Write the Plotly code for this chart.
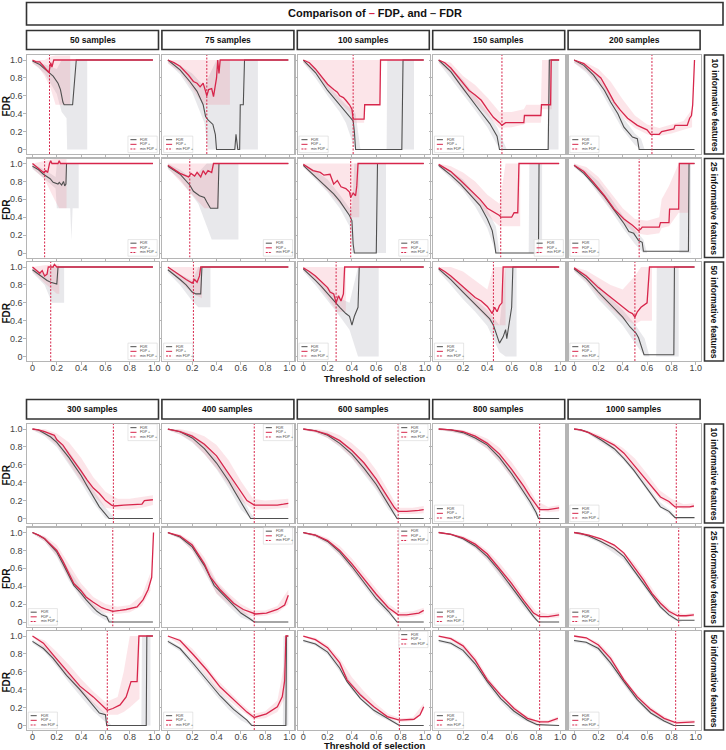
import plotly.graph_objects as go

W, H = 726, 750
FONT = "Liberation Sans, Arial, sans-serif"

# ---------------- labels ----------------
SAMPLES_TOP = ["50 samples", "75 samples", "100 samples", "150 samples", "200 samples"]
SAMPLES_BOTTOM = ["300 samples", "400 samples", "600 samples", "800 samples", "1000 samples"]
FEATURES = ["10 informative features", "25 informative features", "50 informative features"]
X_TICKS = [0, 0.2, 0.4, 0.6, 0.8, 1.0]
X_TICKTEXT = ["0", "0.2", "0.4", "0.6", "0.8", "1.0"]
Y_TICKS = [0, 0.2, 0.4, 0.6, 0.8, 1.0]
Y_TICKTEXT = ["0", "0.2", "0.4", "0.6", "0.8", "1.0"]

# ---------------- data: (threshold, value) ; bands: (threshold, low, high) ----------------
# ---- 10 informative features, small samples
S50_F10_FDR = [(0,0.99),(0.03,0.97),(0.06,0.95),(0.1,0.9),(0.13,0.87),(0.17,0.82),(0.21,0.74),(0.23,0.67),(0.25,0.53),(0.26,0.5),(0.33,0.5),(0.36,1.0),(0.99,1.0)]
S50_F10_FDP = [(0,1.0),(0.03,0.98),(0.06,0.98),(0.08,0.95),(0.1,0.92),(0.12,0.89),(0.135,0.86),(0.15,0.97),(0.16,0.92),(0.175,1.0),(0.99,1.0)]
S50_F10_FDR_BAND = [(0,0.97,1.0),(0.1,0.85,0.95),(0.2,0.62,0.9),(0.24,0.42,1.0),(0.28,0.35,1.0),(0.285,0.0,1.0),(0.45,0.0,1.0)]
S50_F10_FDP_BAND = [(0,0.96,1.0),(0.05,0.92,1.0),(0.1,0.82,1.0),(0.15,0.68,1.04),(0.19,0.5,1.05),(0.31,0.5,1.05)]
S75_F10_FDR = [(0,1.0),(0.05,0.95),(0.1,0.89),(0.18,0.76),(0.24,0.65),(0.29,0.5),(0.31,0.37),(0.33,0.33),(0.35,0.31),(0.37,0.28),(0.39,0.17),(0.4,0.0),(0.55,0.0),(0.56,0.17),(0.575,0.0),(0.59,0.0),(0.595,0.5),(0.62,0.5),(0.63,1.0),(0.99,1.0)]
S75_F10_FDP = [(0,1.0),(0.05,0.97),(0.1,0.93),(0.17,0.83),(0.21,0.76),(0.24,0.74),(0.265,0.7),(0.29,0.74),(0.31,0.65),(0.32,0.6),(0.335,0.67),(0.36,0.68),(0.375,0.59),(0.4,0.8),(0.41,1.0),(0.42,0.85),(0.43,1.0),(0.99,1.0)]
S75_F10_FDR_BAND = [(0,0.97,1.0),(0.1,0.84,0.94),(0.2,0.64,0.85),(0.3,0.3,0.7),(0.33,0.0,0.8),(0.4,0.0,1.0),(0.74,0.0,1.0)]
S75_F10_FDP_BAND = [(0,0.96,1.0),(0.1,0.87,1.0),(0.2,0.68,1.0),(0.29,0.5,1.0),(0.51,0.5,1.0)]
S100_F10_FDR = [(0,1.0),(0.05,0.93),(0.1,0.86),(0.15,0.76),(0.2,0.66),(0.25,0.58),(0.3,0.5),(0.35,0.42),(0.38,0.38),(0.41,0.32),(0.42,0.2),(0.43,0.0),(0.81,0.0),(0.82,1.0),(0.99,1.0)]
S100_F10_FDP = [(0,1.0),(0.05,0.97),(0.1,0.9),(0.15,0.82),(0.2,0.73),(0.25,0.67),(0.28,0.64),(0.3,0.6),(0.33,0.58),(0.35,0.55),(0.38,0.5),(0.4,0.45),(0.41,0.34),(0.5,0.34),(0.505,0.5),(0.63,0.5),(0.635,1.0),(0.99,1.0)]
S100_F10_FDR_BAND = [(0,0.97,1.0),(0.1,0.8,0.9),(0.2,0.6,0.72),(0.3,0.42,0.58),(0.35,0.3,0.5),(0.4,0.1,0.45),(0.43,0.0,0.4),(0.47,0.0,0.0),(0.685,0.0,0.0),(0.69,0.0,1.0),(0.91,0.0,1.0)]
S100_F10_FDP_BAND = [(0,0.97,1.0),(0.1,0.85,1.0),(0.2,0.68,1.0),(0.3,0.52,1.0),(0.38,0.42,1.0),(0.41,0.3,1.0),(0.5,0.3,1.0),(0.505,0.5,1.0),(0.635,0.5,1.0)]
S150_F10_FDR = [(0,1.0),(0.05,0.94),(0.1,0.87),(0.18,0.72),(0.26,0.57),(0.34,0.43),(0.42,0.29),(0.48,0.15),(0.5,0.0),(0.9,0.0),(0.91,1.0),(0.99,1.0)]
S150_F10_FDP = [(0,1.0),(0.05,0.97),(0.1,0.91),(0.15,0.83),(0.2,0.74),(0.25,0.66),(0.3,0.61),(0.35,0.55),(0.4,0.45),(0.45,0.36),(0.5,0.3),(0.52,0.27),(0.55,0.3),(0.7,0.3),(0.705,0.38),(0.84,0.38),(0.845,0.5),(0.92,0.5),(0.925,1.0),(0.99,1.0)]
S150_F10_FDR_BAND = [(0,0.97,1.0),(0.1,0.8,0.92),(0.2,0.62,0.78),(0.3,0.44,0.6),(0.4,0.25,0.42),(0.48,0.05,0.25),(0.52,0.0,0.12),(0.56,0.0,0.0),(0.895,0.0,0.0),(0.9,0.0,1.0),(0.985,0.0,1.0)]
S150_F10_FDP_BAND = [(0,0.97,1.0),(0.1,0.85,0.97),(0.2,0.66,0.82),(0.3,0.52,0.72),(0.4,0.38,0.58),(0.5,0.24,0.42),(0.6,0.25,0.42),(0.7,0.28,0.45),(0.72,0.3,0.5),(0.84,0.3,0.5),(0.85,0.45,1.0),(0.93,0.45,1.0)]
S200_F10_FDR = [(0,1.0),(0.08,0.94),(0.16,0.83),(0.25,0.66),(0.3,0.53),(0.36,0.4),(0.41,0.25),(0.48,0.14),(0.52,0.12),(0.535,0.0),(0.99,0.0)]
S200_F10_FDP = [(0,1.0),(0.08,0.96),(0.16,0.87),(0.22,0.8),(0.27,0.68),(0.33,0.53),(0.38,0.44),(0.44,0.35),(0.52,0.27),(0.6,0.22),(0.63,0.17),(0.7,0.17),(0.72,0.2),(0.82,0.23),(0.83,0.27),(0.93,0.27),(0.95,0.35),(0.965,0.38),(0.975,0.5),(0.99,1.0)]
S200_F10_FDR_BAND = [(0,0.97,1.0),(0.1,0.86,0.94),(0.2,0.7,0.82),(0.3,0.46,0.6),(0.4,0.22,0.36),(0.5,0.05,0.18),(0.55,0.0,0.12),(0.58,0.0,0.0)]
S200_F10_FDP_BAND = [(0,0.97,1.0),(0.1,0.88,0.97),(0.2,0.74,0.9),(0.3,0.55,0.76),(0.4,0.36,0.56),(0.5,0.24,0.38),(0.6,0.17,0.28),(0.7,0.15,0.24),(0.8,0.18,0.28),(0.9,0.22,0.32),(0.97,0.25,0.45)]

# ---- 25 informative features, small samples
S50_F25_FDR = [(0,0.97),(0.05,0.93),(0.09,0.88),(0.145,0.83),(0.17,0.79),(0.21,0.77),(0.22,0.79),(0.24,0.76),(0.255,0.8),(0.265,0.75),(0.275,0.77),(0.28,1.0),(0.99,1.0)]
S50_F25_FDP = [(0,1.0),(0.05,0.94),(0.09,0.9),(0.11,0.92),(0.125,0.9),(0.14,1.0),(0.15,1.03),(0.16,1.0),(0.21,1.0),(0.22,1.03),(0.23,1.0),(0.99,1.0)]
S50_F25_FDR_BAND = [(0,0.94,1.0),(0.1,0.83,0.93),(0.19,0.72,0.85),(0.2,0.5,1.0),(0.31,0.5,1.0),(0.32,0.14,1.0),(0.33,0.5,1.0),(0.38,0.5,1.0)]
S50_F25_FDP_BAND = [(0,0.95,1.0),(0.1,0.82,1.03),(0.18,0.6,1.05),(0.22,0.5,1.05),(0.28,0.5,1.05)]
S75_F25_FDR = [(0,0.97),(0.1,0.88),(0.18,0.76),(0.21,0.69),(0.26,0.64),(0.3,0.62),(0.32,0.57),(0.35,0.5),(0.41,0.5),(0.42,1.0),(0.99,1.0)]
S75_F25_FDP = [(0,0.98),(0.05,0.93),(0.1,0.89),(0.17,0.85),(0.19,0.89),(0.22,0.86),(0.24,0.9),(0.27,0.85),(0.29,0.92),(0.31,0.88),(0.33,0.92),(0.36,0.9),(0.375,1.0),(0.99,1.0)]
S75_F25_FDR_BAND = [(0,0.94,1.0),(0.1,0.82,0.93),(0.18,0.68,0.85),(0.25,0.55,0.9),(0.32,0.3,1.0),(0.36,0.15,1.0),(0.58,0.15,1.0)]
S75_F25_FDP_BAND = [(0,0.95,1.0),(0.1,0.8,1.0),(0.2,0.65,1.0),(0.3,0.5,1.0),(0.42,0.5,1.0)]
S100_F25_FDR = [(0,0.98),(0.08,0.88),(0.17,0.77),(0.25,0.66),(0.3,0.58),(0.35,0.48),(0.38,0.42),(0.4,0.36),(0.41,0.1),(0.42,0.0),(0.6,0.0),(0.61,1.0),(0.99,1.0)]
S100_F25_FDP = [(0,0.99),(0.04,0.95),(0.08,0.92),(0.14,0.9),(0.17,0.87),(0.22,0.88),(0.25,0.77),(0.28,0.81),(0.31,0.74),(0.35,0.72),(0.38,0.68),(0.39,0.62),(0.41,0.67),(0.43,0.64),(0.44,0.75),(0.45,1.0),(0.99,1.0)]
S100_F25_FDR_BAND = [(0,0.96,1.0),(0.1,0.82,0.92),(0.2,0.68,0.82),(0.3,0.5,0.65),(0.38,0.3,0.5),(0.4,0.0,0.5),(0.42,0.0,1.0),(0.68,0.0,1.0)]
S100_F25_FDP_BAND = [(0,0.96,1.0),(0.1,0.84,1.0),(0.2,0.7,1.0),(0.3,0.55,1.0),(0.4,0.4,1.0),(0.46,0.4,1.0)]
S150_F25_FDR = [(0,0.98),(0.1,0.87),(0.18,0.77),(0.26,0.65),(0.34,0.53),(0.4,0.38),(0.44,0.25),(0.46,0.1),(0.47,0.0),(0.82,0.0),(0.825,1.0),(0.99,1.0)]
S150_F25_FDP = [(0,0.99),(0.1,0.91),(0.18,0.81),(0.26,0.7),(0.34,0.6),(0.4,0.5),(0.45,0.46),(0.5,0.42),(0.51,0.4),(0.6,0.4),(0.62,0.45),(0.65,0.45),(0.66,1.0),(0.99,1.0)]
S150_F25_FDR_BAND = [(0,0.96,1.0),(0.1,0.83,0.92),(0.2,0.7,0.82),(0.3,0.52,0.66),(0.4,0.28,0.48),(0.47,0.0,0.3),(0.5,0.0,0.0),(0.74,0.0,0.0),(0.745,0.0,1.0),(0.85,0.0,1.0)]
S150_F25_FDP_BAND = [(0,0.96,1.0),(0.1,0.86,0.97),(0.2,0.72,0.9),(0.3,0.58,0.8),(0.4,0.42,0.65),(0.5,0.3,0.55),(0.55,0.3,1.0),(0.67,0.3,1.0)]
S200_F25_FDR = [(0,0.98),(0.08,0.89),(0.16,0.77),(0.25,0.63),(0.33,0.48),(0.41,0.33),(0.45,0.24),(0.49,0.22),(0.53,0.14),(0.56,0.12),(0.57,0.02),(0.94,0.02),(0.945,1.0),(0.99,1.0)]
S200_F25_FDP = [(0,0.98),(0.08,0.91),(0.16,0.79),(0.25,0.64),(0.33,0.49),(0.41,0.38),(0.48,0.31),(0.53,0.25),(0.55,0.27),(0.56,0.29),(0.7,0.29),(0.71,0.34),(0.78,0.34),(0.785,0.49),(0.86,0.49),(0.865,1.0),(0.99,1.0)]
S200_F25_FDR_BAND = [(0,0.96,1.0),(0.1,0.84,0.92),(0.2,0.66,0.8),(0.3,0.48,0.62),(0.4,0.28,0.42),(0.5,0.1,0.26),(0.57,0.0,0.15),(0.6,0.0,0.0),(0.865,0.0,0.0),(0.87,0.0,1.0),(0.96,0.0,1.0)]
S200_F25_FDP_BAND = [(0,0.96,1.0),(0.1,0.86,0.96),(0.2,0.68,0.85),(0.3,0.5,0.68),(0.4,0.34,0.5),(0.5,0.22,0.38),(0.6,0.2,0.36),(0.7,0.22,0.4),(0.72,0.28,0.6),(0.78,0.3,0.75),(0.86,0.45,1.0),(0.94,0.45,1.0)]

# ---- 50 informative features, small samples
S50_F50_FDR = [(0,0.97),(0.04,0.93),(0.08,0.88),(0.12,0.85),(0.15,0.83),(0.18,0.82),(0.2,0.81),(0.21,1.0),(0.99,1.0)]
S50_F50_FDP = [(0,1.0),(0.03,0.97),(0.06,0.93),(0.08,0.96),(0.1,0.9),(0.12,0.92),(0.13,1.0),(0.17,1.0),(0.18,1.03),(0.2,1.0),(0.99,1.0)]
S50_F50_FDR_BAND = [(0,0.94,1.0),(0.1,0.8,0.92),(0.16,0.6,1.0),(0.26,0.6,1.0)]
S50_F50_FDP_BAND = [(0,0.95,1.0),(0.1,0.82,1.02),(0.2,0.7,1.03),(0.22,0.7,1.03)]
S75_F50_FDR = [(0,0.97),(0.05,0.92),(0.1,0.86),(0.15,0.8),(0.2,0.72),(0.23,0.7),(0.27,0.7),(0.28,1.0),(0.99,1.0)]
S75_F50_FDP = [(0,1.0),(0.05,0.95),(0.1,0.9),(0.15,0.86),(0.2,0.82),(0.22,0.86),(0.24,0.83),(0.26,0.9),(0.27,1.0),(0.99,1.0)]
S75_F50_FDR_BAND = [(0,0.94,1.0),(0.1,0.8,0.92),(0.2,0.62,0.85),(0.25,0.55,1.0),(0.35,0.55,1.0)]
S75_F50_FDP_BAND = [(0,0.96,1.0),(0.1,0.84,1.0),(0.2,0.7,1.0),(0.28,0.65,1.0)]
S100_F50_FDR = [(0,0.98),(0.05,0.92),(0.1,0.85),(0.15,0.78),(0.2,0.7),(0.25,0.62),(0.3,0.55),(0.35,0.48),(0.38,0.45),(0.4,0.35),(0.42,0.45),(0.45,0.55),(0.46,1.0),(0.99,1.0)]
S100_F50_FDP = [(0,0.99),(0.05,0.95),(0.1,0.9),(0.15,0.83),(0.2,0.77),(0.22,0.72),(0.25,0.7),(0.27,0.6),(0.29,0.68),(0.31,0.62),(0.33,0.7),(0.34,1.0),(0.99,1.0)]
S100_F50_FDR_BAND = [(0,0.95,1.0),(0.1,0.8,0.9),(0.2,0.62,0.78),(0.3,0.45,0.65),(0.38,0.3,0.6),(0.45,0.0,1.0),(0.62,0.0,1.0)]
S100_F50_FDP_BAND = [(0,0.96,1.0),(0.1,0.84,1.0),(0.2,0.66,1.0),(0.28,0.5,1.0),(0.35,0.5,1.0)]
S150_F50_FDR = [(0,0.98),(0.05,0.92),(0.1,0.86),(0.2,0.72),(0.3,0.58),(0.38,0.47),(0.42,0.42),(0.45,0.35),(0.48,0.22),(0.5,0.15),(0.53,0.22),(0.55,0.3),(0.56,0.2),(0.6,0.55),(0.61,1.0),(0.99,1.0)]
S150_F50_FDP = [(0,0.99),(0.05,0.95),(0.1,0.9),(0.2,0.78),(0.3,0.66),(0.35,0.62),(0.4,0.56),(0.42,0.52),(0.44,0.48),(0.46,0.55),(0.48,0.5),(0.5,0.57),(0.52,0.6),(0.53,1.0),(0.99,1.0)]
S150_F50_FDR_BAND = [(0,0.95,1.0),(0.1,0.8,0.9),(0.2,0.64,0.78),(0.3,0.5,0.64),(0.4,0.34,0.52),(0.5,0.05,0.35),(0.55,0.0,1.0),(0.64,0.0,1.0)]
S150_F50_FDP_BAND = [(0,0.96,1.0),(0.1,0.85,1.0),(0.2,0.7,0.95),(0.3,0.56,0.85),(0.4,0.42,0.75),(0.45,0.35,1.0),(0.55,0.35,1.0)]
S200_F50_FDR = [(0,0.98),(0.1,0.87),(0.2,0.72),(0.3,0.58),(0.4,0.44),(0.46,0.33),(0.51,0.26),(0.53,0.21),(0.575,0.02),(0.82,0.02),(0.825,1.0),(0.99,1.0)]
S200_F50_FDP = [(0,0.99),(0.1,0.9),(0.2,0.77),(0.3,0.66),(0.4,0.55),(0.45,0.5),(0.48,0.48),(0.5,0.44),(0.52,0.5),(0.55,0.55),(0.6,0.6),(0.62,1.0),(0.99,1.0)]
S200_F50_FDR_BAND = [(0,0.95,1.0),(0.1,0.82,0.92),(0.2,0.64,0.8),(0.3,0.5,0.65),(0.4,0.35,0.52),(0.5,0.15,0.36),(0.58,0.0,0.2),(0.62,0.0,0.0),(0.675,0.0,0.0),(0.68,0.0,1.0),(0.86,0.0,1.0)]
S200_F50_FDP_BAND = [(0,0.96,1.0),(0.1,0.84,0.96),(0.2,0.68,0.88),(0.3,0.54,0.8),(0.4,0.42,0.75),(0.5,0.36,0.9),(0.55,0.4,1.0),(0.64,0.4,1.0)]

# ---- 10 informative features, large samples
S300_F10_FDR = [(0,1.0),(0.05,0.99),(0.1,0.95),(0.15,0.91),(0.2,0.85),(0.25,0.77),(0.3,0.68),(0.35,0.58),(0.4,0.48),(0.45,0.36),(0.5,0.25),(0.55,0.13),(0.6,0.05),(0.63,0.0),(0.99,0.0)]
S300_F10_FDP = [(0,1.0),(0.05,0.99),(0.1,0.97),(0.15,0.95),(0.18,0.93),(0.2,0.88),(0.25,0.82),(0.3,0.72),(0.35,0.63),(0.4,0.53),(0.45,0.43),(0.5,0.34),(0.55,0.28),(0.6,0.2),(0.65,0.15),(0.67,0.14),(0.75,0.15),(0.85,0.16),(0.9,0.16),(0.92,0.2),(0.99,0.21)]
S300_F10_FDR_BAND = [(0,0.99,1.0),(0.1,0.92,0.98),(0.2,0.8,0.9),(0.3,0.6,0.75),(0.4,0.4,0.55),(0.5,0.18,0.32),(0.6,0.0,0.12),(0.65,0.0,0.05),(0.68,0.0,0.0)]
S300_F10_FDP_BAND = [(0,0.99,1.0),(0.1,0.94,1.0),(0.2,0.82,0.95),(0.3,0.62,0.85),(0.4,0.42,0.68),(0.5,0.26,0.46),(0.6,0.12,0.3),(0.7,0.1,0.22),(0.8,0.1,0.22),(0.9,0.12,0.24),(0.99,0.15,0.26)]
S400_F10_FDR = [(0,1.0),(0.1,0.97),(0.2,0.9),(0.3,0.78),(0.4,0.62),(0.5,0.42),(0.55,0.3),(0.6,0.18),(0.65,0.07),(0.68,0.0),(0.99,0.0)]
S400_F10_FDP = [(0,1.0),(0.1,0.97),(0.2,0.92),(0.3,0.83),(0.4,0.7),(0.45,0.6),(0.5,0.5),(0.55,0.4),(0.6,0.3),(0.65,0.2),(0.71,0.15),(0.8,0.15),(0.9,0.15),(0.95,0.16),(0.99,0.17)]
S400_F10_FDR_BAND = [(0,0.99,1.0),(0.1,0.94,0.99),(0.2,0.85,0.94),(0.3,0.72,0.84),(0.4,0.55,0.68),(0.5,0.34,0.5),(0.6,0.1,0.26),(0.68,0.0,0.06),(0.72,0.0,0.0)]
S400_F10_FDP_BAND = [(0,0.99,1.0),(0.1,0.94,1.0),(0.2,0.86,0.97),(0.3,0.72,0.92),(0.4,0.56,0.82),(0.5,0.38,0.65),(0.6,0.2,0.42),(0.7,0.1,0.22),(0.8,0.1,0.2),(0.99,0.12,0.22)]
S600_F10_FDR = [(0,1.0),(0.1,0.98),(0.2,0.93),(0.3,0.84),(0.4,0.72),(0.5,0.56),(0.6,0.38),(0.65,0.27),(0.7,0.16),(0.75,0.05),(0.77,0.0),(0.99,0.0)]
S600_F10_FDP = [(0,1.0),(0.1,0.98),(0.2,0.94),(0.3,0.87),(0.4,0.76),(0.5,0.62),(0.6,0.44),(0.65,0.33),(0.7,0.22),(0.75,0.12),(0.78,0.08),(0.85,0.08),(0.95,0.09),(0.99,0.1)]
S600_F10_FDR_BAND = [(0,0.99,1.0),(0.1,0.96,0.99),(0.2,0.9,0.96),(0.3,0.8,0.88),(0.4,0.67,0.77),(0.5,0.5,0.62),(0.6,0.32,0.44),(0.7,0.1,0.22),(0.77,0.0,0.04),(0.8,0.0,0.0)]
S600_F10_FDP_BAND = [(0,0.99,1.0),(0.1,0.96,1.0),(0.2,0.9,0.98),(0.3,0.81,0.93),(0.4,0.68,0.84),(0.5,0.52,0.72),(0.6,0.34,0.54),(0.7,0.14,0.3),(0.78,0.05,0.12),(0.9,0.05,0.12),(0.99,0.06,0.14)]
S800_F10_FDR = [(0,1.0),(0.1,0.99),(0.2,0.96),(0.3,0.9),(0.4,0.82),(0.5,0.68),(0.6,0.5),(0.7,0.3),(0.75,0.19),(0.8,0.07),(0.82,0.0),(0.99,0.0)]
S800_F10_FDP = [(0,1.0),(0.1,0.99),(0.2,0.97),(0.3,0.92),(0.4,0.84),(0.5,0.72),(0.6,0.55),(0.7,0.36),(0.75,0.25),(0.8,0.15),(0.83,0.1),(0.9,0.1),(0.95,0.11),(0.99,0.12)]
S800_F10_FDR_BAND = [(0,0.99,1.0),(0.1,0.97,1.0),(0.2,0.94,0.98),(0.3,0.87,0.93),(0.4,0.78,0.86),(0.5,0.63,0.73),(0.6,0.45,0.55),(0.7,0.25,0.35),(0.8,0.03,0.11),(0.83,0.0,0.02),(0.86,0.0,0.0)]
S800_F10_FDP_BAND = [(0,0.99,1.0),(0.1,0.97,1.0),(0.2,0.94,0.99),(0.3,0.88,0.95),(0.4,0.78,0.89),(0.5,0.64,0.79),(0.6,0.46,0.63),(0.7,0.28,0.44),(0.8,0.1,0.2),(0.9,0.07,0.13),(0.99,0.08,0.15)]
S1000_F10_FDR = [(0,1.0),(0.055,0.99),(0.12,0.96),(0.22,0.88),(0.33,0.78),(0.41,0.67),(0.49,0.54),(0.57,0.39),(0.64,0.26),(0.71,0.13),(0.78,0.08),(0.83,0.01),(0.99,0.01)]
S1000_F10_FDP = [(0,1.0),(0.055,0.99),(0.12,0.96),(0.22,0.9),(0.33,0.82),(0.41,0.73),(0.49,0.6),(0.57,0.47),(0.64,0.36),(0.71,0.24),(0.78,0.19),(0.83,0.13),(0.95,0.13),(0.985,0.14)]
S1000_F10_FDR_BAND = [(0,0.99,1.0),(0.1,0.96,0.98),(0.2,0.87,0.91),(0.3,0.78,0.83),(0.4,0.66,0.71),(0.5,0.5,0.56),(0.6,0.31,0.38),(0.7,0.13,0.19),(0.8,0.03,0.08),(0.84,0.0,0.02),(0.87,0.0,0.0)]
S1000_F10_FDP_BAND = [(0,0.99,1.0),(0.1,0.96,0.99),(0.2,0.88,0.94),(0.3,0.8,0.87),(0.4,0.7,0.79),(0.5,0.55,0.67),(0.6,0.38,0.5),(0.7,0.22,0.32),(0.8,0.14,0.22),(0.9,0.11,0.16),(0.985,0.12,0.17)]

# ---- 25 informative features, large samples
S300_F25_FDR = [(0,1.0),(0.05,0.97),(0.1,0.93),(0.15,0.86),(0.2,0.78),(0.25,0.65),(0.3,0.52),(0.34,0.41),(0.4,0.32),(0.44,0.25),(0.5,0.16),(0.53,0.12),(0.57,0.08),(0.61,0.06),(0.63,0.0),(0.99,0.0)]
S300_F25_FDP = [(0,1.0),(0.05,0.97),(0.1,0.93),(0.15,0.87),(0.2,0.8),(0.25,0.68),(0.3,0.55),(0.34,0.43),(0.4,0.35),(0.44,0.28),(0.5,0.22),(0.53,0.19),(0.57,0.16),(0.61,0.14),(0.66,0.12),(0.72,0.13),(0.77,0.14),(0.86,0.17),(0.91,0.25),(0.95,0.36),(0.98,0.5),(0.995,1.0)]
S300_F25_FDR_BAND = [(0,0.99,1.0),(0.1,0.9,0.95),(0.2,0.73,0.82),(0.3,0.46,0.58),(0.4,0.26,0.38),(0.5,0.1,0.2),(0.6,0.02,0.09),(0.65,0.0,0.02),(0.68,0.0,0.0)]
S300_F25_FDP_BAND = [(0,0.99,1.0),(0.1,0.9,0.96),(0.2,0.74,0.86),(0.3,0.48,0.64),(0.4,0.29,0.43),(0.5,0.16,0.28),(0.6,0.1,0.2),(0.7,0.09,0.17),(0.8,0.11,0.19),(0.9,0.18,0.3),(0.97,0.35,0.55)]
S400_F25_FDR = [(0,1.0),(0.1,0.95),(0.2,0.84),(0.3,0.63),(0.38,0.41),(0.49,0.25),(0.6,0.1),(0.67,0.04),(0.71,0.0),(0.99,0.0)]
S400_F25_FDP = [(0,1.0),(0.1,0.96),(0.2,0.86),(0.3,0.65),(0.35,0.5),(0.43,0.36),(0.54,0.21),(0.62,0.14),(0.72,0.09),(0.81,0.1),(0.9,0.14),(0.96,0.19),(0.99,0.3)]
S400_F25_FDR_BAND = [(0,0.99,1.0),(0.1,0.93,0.97),(0.2,0.8,0.88),(0.3,0.56,0.68),(0.4,0.32,0.44),(0.5,0.18,0.3),(0.6,0.05,0.15),(0.7,0.0,0.03),(0.74,0.0,0.0)]
S400_F25_FDP_BAND = [(0,0.99,1.0),(0.1,0.93,0.98),(0.2,0.8,0.9),(0.3,0.58,0.72),(0.4,0.32,0.46),(0.5,0.2,0.32),(0.6,0.1,0.2),(0.7,0.06,0.13),(0.8,0.07,0.13),(0.9,0.1,0.18),(0.99,0.2,0.36)]
S600_F25_FDR = [(0,1.0),(0.1,0.97),(0.2,0.9),(0.3,0.78),(0.4,0.62),(0.5,0.44),(0.6,0.26),(0.7,0.12),(0.75,0.04),(0.77,0.0),(0.99,0.0)]
S600_F25_FDP = [(0,1.0),(0.1,0.97),(0.2,0.91),(0.3,0.8),(0.4,0.65),(0.5,0.48),(0.6,0.31),(0.7,0.16),(0.78,0.08),(0.85,0.08),(0.95,0.1),(0.99,0.13)]
S600_F25_FDR_BAND = [(0,0.99,1.0),(0.1,0.95,0.98),(0.2,0.87,0.92),(0.3,0.74,0.81),(0.4,0.58,0.66),(0.5,0.4,0.48),(0.6,0.22,0.3),(0.7,0.08,0.15),(0.77,0.0,0.02),(0.8,0.0,0.0)]
S600_F25_FDP_BAND = [(0,0.99,1.0),(0.1,0.95,0.99),(0.2,0.88,0.94),(0.3,0.75,0.85),(0.4,0.59,0.71),(0.5,0.42,0.54),(0.6,0.26,0.36),(0.7,0.12,0.2),(0.8,0.05,0.11),(0.9,0.06,0.12),(0.99,0.09,0.16)]
S800_F25_FDR = [(0,1.0),(0.1,0.98),(0.2,0.93),(0.3,0.85),(0.4,0.73),(0.5,0.57),(0.6,0.39),(0.7,0.2),(0.78,0.06),(0.82,0.0),(0.99,0.0)]
S800_F25_FDP = [(0,1.0),(0.1,0.98),(0.2,0.94),(0.3,0.87),(0.4,0.76),(0.5,0.6),(0.6,0.43),(0.7,0.24),(0.78,0.1),(0.83,0.06),(0.9,0.06),(0.99,0.08)]
S800_F25_FDR_BAND = [(0,0.99,1.0),(0.1,0.97,0.99),(0.2,0.91,0.95),(0.3,0.82,0.88),(0.4,0.69,0.77),(0.5,0.52,0.62),(0.6,0.34,0.44),(0.7,0.16,0.24),(0.8,0.01,0.06),(0.83,0.0,0.01),(0.86,0.0,0.0)]
S800_F25_FDP_BAND = [(0,0.99,1.0),(0.1,0.97,0.99),(0.2,0.92,0.96),(0.3,0.83,0.9),(0.4,0.7,0.8),(0.5,0.54,0.66),(0.6,0.37,0.49),(0.7,0.19,0.29),(0.8,0.06,0.12),(0.9,0.04,0.09),(0.99,0.05,0.11)]
S1000_F25_FDR = [(0,1.0),(0.055,0.99),(0.12,0.96),(0.22,0.9),(0.33,0.82),(0.41,0.73),(0.49,0.58),(0.57,0.43),(0.64,0.3),(0.71,0.17),(0.78,0.08),(0.85,0.02),(0.99,0.02)]
S1000_F25_FDP = [(0,1.0),(0.055,0.99),(0.12,0.97),(0.22,0.93),(0.33,0.86),(0.41,0.77),(0.49,0.62),(0.57,0.47),(0.64,0.32),(0.71,0.21),(0.78,0.12),(0.85,0.07),(0.92,0.07),(0.985,0.08)]
S1000_F25_FDR_BAND = [(0,0.99,1.0),(0.1,0.95,0.98),(0.2,0.89,0.92),(0.3,0.8,0.85),(0.4,0.7,0.76),(0.5,0.53,0.59),(0.6,0.34,0.41),(0.7,0.16,0.22),(0.8,0.04,0.09),(0.86,0.0,0.02),(0.89,0.0,0.0)]
S1000_F25_FDP_BAND = [(0,0.99,1.0),(0.1,0.96,0.99),(0.2,0.91,0.95),(0.3,0.83,0.89),(0.4,0.74,0.8),(0.5,0.57,0.65),(0.6,0.38,0.46),(0.7,0.19,0.26),(0.8,0.08,0.13),(0.9,0.05,0.09),(0.985,0.06,0.1)]

# ---- 50 informative features, large samples
S300_F50_FDR = [(0,0.94),(0.09,0.86),(0.17,0.75),(0.28,0.56),(0.39,0.4),(0.5,0.23),(0.55,0.14),(0.6,0.12),(0.61,0.0),(0.935,0.0),(0.94,1.0),(0.99,1.0)]
S300_F50_FDP = [(0,1.0),(0.09,0.92),(0.17,0.79),(0.28,0.62),(0.39,0.44),(0.5,0.32),(0.58,0.21),(0.615,0.17),(0.66,0.19),(0.72,0.23),(0.77,0.32),(0.79,0.4),(0.81,0.49),(0.86,0.49),(0.875,1.0),(0.99,1.0)]
S300_F50_FDR_BAND = [(0,0.92,0.96),(0.1,0.82,0.88),(0.2,0.66,0.74),(0.3,0.48,0.58),(0.4,0.32,0.42),(0.5,0.16,0.26),(0.6,0.04,0.13),(0.62,0.0,0.05),(0.65,0.0,0.0),(0.895,0.0,0.0),(0.9,0.0,1.0),(0.97,0.0,1.0)]
S300_F50_FDP_BAND = [(0,0.99,1.0),(0.1,0.86,0.95),(0.2,0.68,0.82),(0.3,0.52,0.68),(0.4,0.36,0.52),(0.5,0.24,0.38),(0.6,0.12,0.26),(0.7,0.12,0.32),(0.75,0.15,0.6),(0.8,0.2,1.0),(0.88,0.3,1.0)]
S400_F50_FDR = [(0,0.94),(0.1,0.86),(0.21,0.69),(0.32,0.51),(0.43,0.33),(0.54,0.18),(0.65,0.06),(0.69,0.0),(0.97,0.0),(0.975,1.0),(0.99,1.0)]
S400_F50_FDP = [(0,1.0),(0.1,0.95),(0.21,0.79),(0.32,0.62),(0.43,0.43),(0.54,0.29),(0.65,0.15),(0.71,0.09),(0.81,0.13),(0.9,0.21),(0.94,0.32),(0.96,0.5),(0.97,1.0),(0.99,1.0)]
S400_F50_FDR_BAND = [(0,0.92,0.96),(0.1,0.83,0.88),(0.2,0.67,0.75),(0.3,0.5,0.58),(0.4,0.33,0.42),(0.5,0.18,0.27),(0.6,0.06,0.14),(0.68,0.0,0.03),(0.72,0.0,0.0),(0.945,0.0,0.0),(0.95,0.0,1.0),(0.99,0.0,1.0)]
S400_F50_FDP_BAND = [(0,0.99,1.0),(0.1,0.9,0.97),(0.2,0.76,0.86),(0.3,0.58,0.7),(0.4,0.4,0.52),(0.5,0.28,0.38),(0.6,0.17,0.25),(0.7,0.07,0.13),(0.8,0.08,0.16),(0.9,0.15,0.28),(0.96,0.3,0.7)]
S600_F50_FDR = [(0,0.95),(0.1,0.91),(0.2,0.82),(0.3,0.64),(0.36,0.49),(0.47,0.3),(0.58,0.17),(0.69,0.08),(0.76,0.03),(0.79,0.0),(0.99,0.0)]
S600_F50_FDP = [(0,1.0),(0.1,0.96),(0.2,0.87),(0.3,0.7),(0.36,0.51),(0.47,0.34),(0.58,0.21),(0.69,0.1),(0.79,0.06),(0.91,0.07),(0.96,0.12),(0.99,0.21)]
S600_F50_FDR_BAND = [(0,0.93,0.96),(0.1,0.89,0.93),(0.2,0.79,0.85),(0.3,0.6,0.68),(0.4,0.39,0.47),(0.5,0.25,0.32),(0.6,0.12,0.18),(0.7,0.05,0.1),(0.78,0.0,0.02),(0.81,0.0,0.0)]
S600_F50_FDP_BAND = [(0,0.99,1.0),(0.1,0.94,0.98),(0.2,0.84,0.9),(0.3,0.66,0.75),(0.4,0.44,0.54),(0.5,0.3,0.38),(0.6,0.18,0.24),(0.7,0.08,0.13),(0.8,0.04,0.08),(0.9,0.05,0.09),(0.99,0.17,0.25)]
S800_F50_FDR = [(0,0.95),(0.1,0.92),(0.2,0.84),(0.3,0.69),(0.4,0.49),(0.51,0.3),(0.62,0.16),(0.73,0.06),(0.81,0.01),(0.99,0.0)]
S800_F50_FDP = [(0,1.0),(0.1,0.97),(0.2,0.89),(0.3,0.73),(0.4,0.51),(0.51,0.34),(0.62,0.19),(0.73,0.08),(0.83,0.04),(0.9,0.04),(0.98,0.08)]
S800_F50_FDR_BAND = [(0,0.93,0.96),(0.1,0.9,0.94),(0.2,0.81,0.87),(0.3,0.65,0.73),(0.4,0.45,0.53),(0.5,0.28,0.35),(0.6,0.14,0.2),(0.7,0.06,0.1),(0.8,0.0,0.03),(0.83,0.0,0.0)]
S800_F50_FDP_BAND = [(0,0.99,1.0),(0.1,0.95,0.99),(0.2,0.86,0.92),(0.3,0.69,0.77),(0.4,0.47,0.55),(0.5,0.31,0.38),(0.6,0.18,0.24),(0.7,0.08,0.13),(0.8,0.02,0.06),(0.9,0.02,0.06),(0.98,0.05,0.1)]
S1000_F50_FDR = [(0,0.95),(0.1,0.93),(0.2,0.86),(0.3,0.7),(0.41,0.49),(0.52,0.29),(0.63,0.14),(0.74,0.05),(0.82,0.0),(0.99,0.0)]
S1000_F50_FDP = [(0,1.0),(0.1,0.98),(0.2,0.9),(0.3,0.75),(0.41,0.51),(0.52,0.32),(0.63,0.18),(0.74,0.08),(0.84,0.03),(0.99,0.04)]
S1000_F50_FDR_BAND = [(0,0.93,0.96),(0.1,0.91,0.94),(0.2,0.83,0.88),(0.3,0.66,0.74),(0.4,0.47,0.54),(0.5,0.29,0.36),(0.6,0.15,0.21),(0.7,0.06,0.11),(0.8,0.0,0.03),(0.83,0.0,0.0)]
S1000_F50_FDP_BAND = [(0,0.99,1.0),(0.1,0.96,0.99),(0.2,0.87,0.93),(0.3,0.71,0.79),(0.4,0.48,0.56),(0.5,0.31,0.38),(0.6,0.18,0.24),(0.7,0.09,0.14),(0.8,0.02,0.06),(0.9,0.02,0.06),(0.99,0.02,0.06)]

# threshold minimising FDP+ (rows = informative features, cols = sample sizes)
MIN_FDP_TOP = [[0.14, 0.32, 0.41, 0.52, 0.64],
               [0.10, 0.18, 0.39, 0.51, 0.535],
               [0.15, 0.21, 0.27, 0.45, 0.50]]
MIN_FDP_BOTTOM = [[0.665, 0.71, 0.78, 0.83, 0.84],
                  [0.66, 0.71, 0.78, 0.83, 0.86],
                  [0.615, 0.71, 0.79, 0.83, 0.835]]

FDR_TOP = [[S50_F10_FDR, S75_F10_FDR, S100_F10_FDR, S150_F10_FDR, S200_F10_FDR],
           [S50_F25_FDR, S75_F25_FDR, S100_F25_FDR, S150_F25_FDR, S200_F25_FDR],
           [S50_F50_FDR, S75_F50_FDR, S100_F50_FDR, S150_F50_FDR, S200_F50_FDR]]
FDP_TOP = [[S50_F10_FDP, S75_F10_FDP, S100_F10_FDP, S150_F10_FDP, S200_F10_FDP],
           [S50_F25_FDP, S75_F25_FDP, S100_F25_FDP, S150_F25_FDP, S200_F25_FDP],
           [S50_F50_FDP, S75_F50_FDP, S100_F50_FDP, S150_F50_FDP, S200_F50_FDP]]
FDR_BAND_TOP = [[S50_F10_FDR_BAND, S75_F10_FDR_BAND, S100_F10_FDR_BAND, S150_F10_FDR_BAND, S200_F10_FDR_BAND],
                [S50_F25_FDR_BAND, S75_F25_FDR_BAND, S100_F25_FDR_BAND, S150_F25_FDR_BAND, S200_F25_FDR_BAND],
                [S50_F50_FDR_BAND, S75_F50_FDR_BAND, S100_F50_FDR_BAND, S150_F50_FDR_BAND, S200_F50_FDR_BAND]]
FDP_BAND_TOP = [[S50_F10_FDP_BAND, S75_F10_FDP_BAND, S100_F10_FDP_BAND, S150_F10_FDP_BAND, S200_F10_FDP_BAND],
                [S50_F25_FDP_BAND, S75_F25_FDP_BAND, S100_F25_FDP_BAND, S150_F25_FDP_BAND, S200_F25_FDP_BAND],
                [S50_F50_FDP_BAND, S75_F50_FDP_BAND, S100_F50_FDP_BAND, S150_F50_FDP_BAND, S200_F50_FDP_BAND]]
FDR_BOT = [[S300_F10_FDR, S400_F10_FDR, S600_F10_FDR, S800_F10_FDR, S1000_F10_FDR],
           [S300_F25_FDR, S400_F25_FDR, S600_F25_FDR, S800_F25_FDR, S1000_F25_FDR],
           [S300_F50_FDR, S400_F50_FDR, S600_F50_FDR, S800_F50_FDR, S1000_F50_FDR]]
FDP_BOT = [[S300_F10_FDP, S400_F10_FDP, S600_F10_FDP, S800_F10_FDP, S1000_F10_FDP],
           [S300_F25_FDP, S400_F25_FDP, S600_F25_FDP, S800_F25_FDP, S1000_F25_FDP],
           [S300_F50_FDP, S400_F50_FDP, S600_F50_FDP, S800_F50_FDP, S1000_F50_FDP]]
FDR_BAND_BOT = [[S300_F10_FDR_BAND, S400_F10_FDR_BAND, S600_F10_FDR_BAND, S800_F10_FDR_BAND, S1000_F10_FDR_BAND],
                [S300_F25_FDR_BAND, S400_F25_FDR_BAND, S600_F25_FDR_BAND, S800_F25_FDR_BAND, S1000_F25_FDR_BAND],
                [S300_F50_FDR_BAND, S400_F50_FDR_BAND, S600_F50_FDR_BAND, S800_F50_FDR_BAND, S1000_F50_FDR_BAND]]
FDP_BAND_BOT = [[S300_F10_FDP_BAND, S400_F10_FDP_BAND, S600_F10_FDP_BAND, S800_F10_FDP_BAND, S1000_F10_FDP_BAND],
                [S300_F25_FDP_BAND, S400_F25_FDP_BAND, S600_F25_FDP_BAND, S800_F25_FDP_BAND, S1000_F25_FDP_BAND],
                [S300_F50_FDP_BAND, S400_F50_FDP_BAND, S600_F50_FDP_BAND, S800_F50_FDP_BAND, S1000_F50_FDP_BAND]]

# legend placement inside each panel
LEG_TOP = [["br", "bl", "bl", "bl", "bl"],
           ["br", "br", "br", "br", "bl"],
           ["br", "bl", "bl", "bl", "bl"]]
LEG_BOT = [["tr", "tr", "tr", "bl", "bl"],
           ["bl", "tr", "tr", "bl", "bl"],
           ["bl", "bl", "tr", "bl", "bl"]]

# ---------------- styling ----------------
RED = "#d7264b"
DARK = "#4f4f4f"
PINK_FILL = "rgba(236,100,125,0.17)"
GRAY_FILL = "rgba(150,150,165,0.22)"
FRAME = "#b5b5b5"
XR = [-0.045, 1.04]
YR = [-0.05, 1.056]


def xp(px):
    return px / W


def yp(py):
    return 1 - py / H


fig = go.Figure()
layout = {}
shapes = []
annots = []

blocks = [
    dict(top=55, head=(30.5, 49.5), samples=SAMPLES_TOP, fdr=FDR_TOP, fdp=FDP_TOP,
         fdrb=FDR_BAND_TOP, fdpb=FDP_BAND_TOP, vl=MIN_FDP_TOP, leg=LEG_TOP, xt=378),
    dict(top=424, head=(399.5, 419), samples=SAMPLES_BOTTOM, fdr=FDR_BOT, fdp=FDP_BOT,
         fdrb=FDR_BAND_BOT, fdpb=FDP_BAND_BOT, vl=MIN_FDP_BOTTOM, leg=LEG_BOT, xt=745.5),
]


def band_xy(band):
    xs = [p[0] for p in band]
    lo = [p[1] for p in band]
    hi = [p[2] for p in band]
    return xs + xs[::-1], hi + lo[::-1]


def add_legend(xr, yr, pos):
    if pos == "br":
        x0, x1, y0, y1 = 0.785, 1.025, -0.035, 0.15
    elif pos == "bl":
        x0, x1, y0, y1 = -0.035, 0.205, -0.035, 0.15
    else:
        x0, x1, y0, y1 = 0.785, 1.025, 0.87, 1.055
    shapes.append(dict(type="rect", xref=xr, yref=yr, x0=x0, x1=x1, y0=y0, y1=y1,
                       line=dict(color="#d5d5d5", width=0.6), fillcolor="rgba(255,255,255,0.85)", layer="above"))
    items = [("FDR", DARK, "solid"), ("FDP +", RED, "solid"), ("min FDP +", RED, "2px,1px")]
    for k, (lab, col, dash) in enumerate(items):
        yy = y1 - 0.04 - 0.052 * k
        shapes.append(dict(type="line", xref=xr, yref=yr, x0=x0 + 0.02, x1=x0 + 0.07, y0=yy, y1=yy,
                           line=dict(color=col, width=1, dash=dash), layer="above"))
        annots.append(dict(xref=xr, yref=yr, x=x0 + 0.085, y=yy, text=lab, showarrow=False,
                           xanchor="left", yanchor="middle", font=dict(size=3.6, color="#444", family=FONT)))


def ann(x, y, text, size, angle=0, color="#111"):
    annots.append(dict(xref="paper", yref="paper", x=xp(x), y=yp(y), text=text, showarrow=False,
                       xanchor="center", yanchor="middle", textangle=angle,
                       font=dict(size=size, color=color, family=FONT)))


idx = 0
for b in blocks:
    # column headers
    for c in range(5):
        l = 26.5 + 135.4 * c
        shapes.append(dict(type="rect", xref="paper", yref="paper", x0=xp(l), x1=xp(l + 132),
                           y0=yp(b["head"][1]), y1=yp(b["head"][0]), line=dict(color="#333", width=1.6),
                           fillcolor="white"))
        ann(l + 66, (b["head"][0] + b["head"][1]) / 2, "<b>%s</b>" % b["samples"][c], 8.5)
    for r in range(3):
        top = b["top"] + 103.5 * r
        bottom = top + 99
        # row strip
        shapes.append(dict(type="rect", xref="paper", yref="paper", x0=xp(704.5), x1=xp(723.5),
                           y0=yp(bottom), y1=yp(top), line=dict(color="#333", width=1.6), fillcolor="white"))
        ann(714, (top + bottom) / 2, "<b>%s</b>" % FEATURES[r], 8.5, angle=90)
        # y title
        ann(6, (top + bottom) / 2 + 2, "<b>FDR</b>", 10, angle=-90)
        for c in range(5):
            idx += 1
            left = 27 + 135.4 * c
            right = left + 132
            sx = "" if idx == 1 else str(idx)
            xr, yr = "x" + sx, "y" + sx
            layout["xaxis" + sx] = dict(domain=[xp(left), xp(right)], range=XR, anchor=yr, automargin=False,
                                        showgrid=False, zeroline=False, showline=True, mirror=True,
                                        linecolor=FRAME, linewidth=1.3, ticks="outside", ticklen=2.5,
                                        tickcolor=FRAME, tickwidth=1, tickvals=X_TICKS, ticktext=X_TICKTEXT,
                                        showticklabels=(r == 2), ticklabelstandoff=-5,
                                        tickfont=dict(size=9, color="#444", family=FONT))
            layout["yaxis" + sx] = dict(domain=[yp(bottom), yp(top)], range=YR, anchor=xr, automargin=False,
                                        showgrid=False, zeroline=False, showline=True, mirror=True,
                                        linecolor=FRAME, linewidth=1.3, ticks="outside", ticklen=2.5,
                                        tickcolor=FRAME, tickwidth=1, tickvals=Y_TICKS, ticktext=Y_TICKTEXT,
                                        showticklabels=(c == 0), ticklabelstandoff=-1,
                                        tickfont=dict(size=9, color="#444", family=FONT))
            gx, gy = band_xy(b["fdrb"][r][c])
            fig.add_trace(go.Scatter(x=gx, y=gy, xaxis=xr, yaxis=yr, fill="toself", fillcolor=GRAY_FILL,
                                     line=dict(width=0), mode="lines", hoverinfo="skip", showlegend=False))
            px_, py_ = band_xy(b["fdpb"][r][c])
            fig.add_trace(go.Scatter(x=px_, y=py_, xaxis=xr, yaxis=yr, fill="toself", fillcolor=PINK_FILL,
                                     line=dict(width=0), mode="lines", hoverinfo="skip", showlegend=False))
            fdr = b["fdr"][r][c]
            fig.add_trace(go.Scatter(x=[p[0] for p in fdr], y=[p[1] for p in fdr], xaxis=xr, yaxis=yr,
                                     mode="lines", line=dict(color=DARK, width=1.1), showlegend=False))
            fdp = b["fdp"][r][c]
            fig.add_trace(go.Scatter(x=[p[0] for p in fdp], y=[p[1] for p in fdp], xaxis=xr, yaxis=yr,
                                     mode="lines", line=dict(color=RED, width=1.3), showlegend=False))
            v = b["vl"][r][c]
            fig.add_trace(go.Scatter(x=[v, v], y=[YR[0], YR[1]], xaxis=xr, yaxis=yr, mode="lines",
                                     line=dict(color=RED, width=1, dash="2px,1.5px"), showlegend=False))
            add_legend(xr, yr, b["leg"][r][c])
    ann(375, b["xt"], "<b>Threshold of selection</b>", 9.5)

# main title
shapes.append(dict(type="rect", xref="paper", yref="paper", x0=xp(26.5), x1=xp(723), y0=yp(25), y1=yp(2.5),
                   line=dict(color="#333", width=1.6), fillcolor="white"))
ann(375, 13.5, "<b>Comparison of <span style='color:%s'>\u2013</span> FDP<sub>+</sub> and "
               "<span style='color:#333'>\u2013</span> FDR</b>" % RED, 11)

fig.update_layout(width=W, height=H, margin=dict(l=0, r=0, t=0, b=0, autoexpand=False), paper_bgcolor="white",
                  plot_bgcolor="white", showlegend=False, shapes=shapes, annotations=annots,
                  font=dict(family=FONT), **layout)
fig.write_html("out.html", config={"displayModeBar": False, "staticPlot": True},
               post_script="document.body.style.margin='0px';")
